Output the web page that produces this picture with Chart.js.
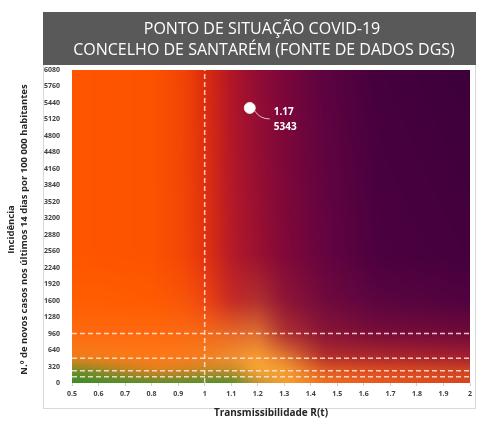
<!DOCTYPE html>
<html>
<head>
<meta charset="utf-8">
<script src="https://cdn.jsdelivr.net/npm/chart.js@4.4.1/dist/chart.umd.min.js"></script>
<style>
  html, body { margin: 0; padding: 0; background: #fff; }
  #wrap { width: 481px; height: 426px; }
</style>
</head>
<body>
<div id="wrap"><canvas id="matriz" width="481" height="426"></canvas></div>
<script>
// dados
const rValues = [1.17];
const incidence = [5343];
const riskLevels = [120, 240, 480, 960];
const rThreshold = [1];
const titleLines = ['PONTO DE SITUAÇÃO COVID-19', 'CONCELHO DE SANTARÉM (FONTE DE DADOS DGS)'];

// cores do fundo (matriz de risco) - colunas em R(t), linhas em incidência
const bgCols = [0.5, 0.8, 0.92, 1.0, 1.1, 1.2, 1.3, 1.45, 1.65, 2.0];
const bgRows = [6080, 2500, 1600, 960, 480, 240, 0];
const bgColors = [
  ['#ff5500', '#fc5300', '#f04405', '#dc2c0e', '#b01528', '#900c35', '#7a063a', '#5c0340', '#45003d', '#3c003a'],
  ['#ff5500', '#fc5300', '#f24606', '#e2320e', '#b51a28', '#9a1030', '#800838', '#650440', '#4c003f', '#44003d'],
  ['#ff5e00', '#ff5a00', '#f85508', '#ee4510', '#c52a25', '#b03030', '#901535', '#700a3d', '#5a0540', '#50023f'],
  ['#ff6a10', '#ff6a10', '#fa6a12', '#f56a15', '#e86a25', '#e07030', '#b03030', '#8a1535', '#7a0c38', '#700a38'],
  ['#f0801a', '#ff7a18', '#fa7c1c', '#f58020', '#f09030', '#f8a030', '#e88030', '#b8302a', '#b02a2a', '#a82030'],
  ['#60902a', '#e08020', '#d08524', '#c08a28', '#c08a28', '#f8a838', '#f5a030', '#e06020', '#e05020', '#d04a20'],
  ['#3a8a2a', '#4a902a', '#4a902a', '#4a902a', '#4a902a', '#c09030', '#f5a030', '#f07020', '#e85a20', '#d84020']
];

function hex(c) {
  return [parseInt(c.substr(1, 2), 16), parseInt(c.substr(3, 2), 16), parseInt(c.substr(5, 2), 16)];
}

const bgPlugin = {
  id: 'bgPlugin',
  beforeDraw(chart) {
    const ctx = chart.ctx;
    // caixa do título
    ctx.save();
    ctx.strokeStyle = '#d9d9d9';
    ctx.lineWidth = 1;
    ctx.strokeRect(43.5, 12.5, 432, 396);
    ctx.fillStyle = '#595959';
    ctx.fillRect(43, 12, 433, 53);
    ctx.fillStyle = '#ffffff';
    ctx.font = '16px "Open Sans"';
    ctx.textAlign = 'center';
    ctx.textBaseline = 'middle';
    ctx.fillText(titleLines[0], 262, 29);
    ctx.fillText(titleLines[1], 264, 50);
    ctx.restore();
  },
  beforeDatasetsDraw(chart) {
    const ctx = chart.ctx;
    const a = chart.chartArea;
    const xs = chart.scales.x, ys = chart.scales.y;
    const pad = 12;
    const w = Math.round(a.right - a.left) + pad * 2;
    const h = Math.round(a.bottom - a.top) + pad * 2;
    const off = document.createElement('canvas');
    off.width = w; off.height = h;
    const octx = off.getContext('2d');
    const img = octx.createImageData(w, h);
    const cx = bgCols.map(v => xs.getPixelForValue(v) - a.left + pad);
    const cy = bgRows.map(v => ys.getPixelForValue(v) - a.top + pad);
    const cols = bgColors.map(r => r.map(hex));
    function seg(arr, v) {
      if (v <= arr[0]) return [0, 0];
      for (let i = 0; i < arr.length - 1; i++) {
        if (v <= arr[i + 1]) return [i, (v - arr[i]) / (arr[i + 1] - arr[i])];
      }
      return [arr.length - 2, 1];
    }
    for (let py = 0; py < h; py++) {
      const [j, ty] = seg(cy, py);
      for (let px = 0; px < w; px++) {
        const [i, tx] = seg(cx, px);
        const c00 = cols[j][i], c01 = cols[j][i + 1], c10 = cols[j + 1][i], c11 = cols[j + 1][i + 1];
        const k = (py * w + px) * 4;
        for (let ch = 0; ch < 3; ch++) {
          const top = c00[ch] + (c01[ch] - c00[ch]) * tx;
          const bot = c10[ch] + (c11[ch] - c10[ch]) * tx;
          img.data[k + ch] = top + (bot - top) * ty;
        }
        img.data[k + 3] = 255;
      }
    }
    octx.putImageData(img, 0, 0);
    ctx.save();
    ctx.beginPath();
    ctx.rect(a.left, a.top, a.right - a.left, a.bottom - a.top);
    ctx.clip();
    ctx.filter = 'blur(4px)';
    ctx.drawImage(off, a.left - pad, a.top - pad);
    ctx.restore();
  },
  afterDraw(chart) {
    const ctx = chart.ctx;
    const xs = chart.scales.x, ys = chart.scales.y;
    const a = chart.chartArea;
    // rótulo do ponto
    const px = xs.getPixelForValue(rValues[0]);
    const py = ys.getPixelForValue(incidence[0]);
    ctx.save();
    ctx.strokeStyle = 'rgba(230,200,210,0.9)';
    ctx.lineWidth = 1;
    ctx.beginPath();
    ctx.moveTo(px + 5, py + 3);
    ctx.quadraticCurveTo(px + 10, py + 11, px + 20, py + 11);
    ctx.stroke();
    ctx.fillStyle = '#ffffff';
    ctx.font = 'bold 10px "Open Sans"';
    ctx.textAlign = 'left';
    ctx.textBaseline = 'middle';
    ctx.fillText(rValues[0].toFixed(2), px + 24, py + 4);
    ctx.fillText(String(incidence[0]), px + 24, py + 19);
    // títulos dos eixos
    ctx.fillStyle = '#262626';
    ctx.textAlign = 'center';
    ctx.font = 'bold 10px "Open Sans"';
    ctx.fillText('Transmissibilidade R(t)', (a.left + a.right) / 2, 413);
    ctx.translate(0, (a.top + a.bottom) / 2 + 3);
    ctx.rotate(-Math.PI / 2);
    ctx.font = 'bold 9.5px "Open Sans"';
    ctx.fillText('Incidência', 0, 11);
    ctx.fillText('N.º de novos casos nos últimos 14 dias por 100 000 habitantes', 0, 24);
    ctx.restore();
  }
};

const dashStyle = {
  type: 'line',
  borderColor: 'rgba(255,230,225,0.85)',
  borderWidth: 1.5,
  borderDash: [5, 3],
  pointRadius: 0,
  fill: false
};

const datasets = [];
riskLevels.forEach(l => {
  datasets.push(Object.assign({ data: [{ x: 0.5, y: l }, { x: 2, y: l }] }, dashStyle));
});
rThreshold.forEach(r => {
  datasets.push(Object.assign({ data: [{ x: r, y: 0 }, { x: r, y: 6080 }] }, dashStyle));
});
datasets.push({
  type: 'scatter',
  data: rValues.map((r, i) => ({ x: r, y: incidence[i] })),
  pointRadius: 5.5,
  backgroundColor: '#ffffff',
  borderColor: '#e8e8e8',
  borderWidth: 1
});

new Chart(document.getElementById('matriz'), {
  type: 'scatter',
  data: { datasets: datasets },
  options: {
    responsive: false,
    animation: false,
    layout: { padding: { top: 70, right: 11, left: 0, bottom: 0 } },
    plugins: { legend: { display: false }, tooltip: { enabled: false } },
    scales: {
      x: {
        type: 'linear',
        min: 0.5, max: 2,
        ticks: {
          stepSize: 0.1,
          color: '#404040',
          font: { size: 7, weight: 'bold', family: '"Open Sans"' },
          padding: 4,
          callback: v => String(Math.round(v * 10) / 10)
        },
        grid: { drawOnChartArea: false, tickLength: 3, color: '#d0d0d0' },
        border: { display: false },
        afterFit: s => { s.height = 43; }
      },
      y: {
        min: 0, max: 6080,
        ticks: {
          stepSize: 320,
          color: '#404040',
          font: { size: 7, weight: 'bold', family: '"Open Sans"' },
          padding: 4,
          callback: v => String(v)
        },
        grid: { display: false },
        border: { display: false },
        afterFit: s => { s.width = 72; }
      }
    }
  },
  plugins: [bgPlugin]
});
</script>
</body>
</html>
